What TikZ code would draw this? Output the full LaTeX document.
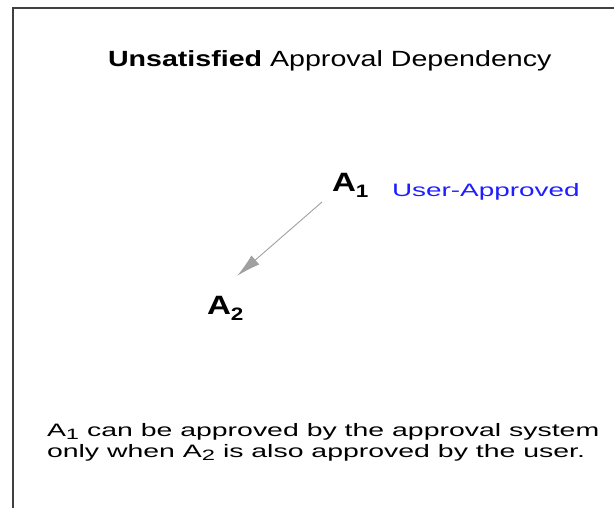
\documentclass[tikz,border=0pt]{standalone}
\usepackage{fontspec}
\setmainfont{Liberation Sans}
\usetikzlibrary{arrows.meta}
\definecolor{frame}{RGB}{64,64,64}
\definecolor{userblue}{RGB}{30,30,255}
\definecolor{arrgray}{RGB}{160,160,160}
\tikzset{
  txt/.style={anchor=base west, inner sep=0pt, outer sep=0pt},
  dep/.style={draw=arrgray, line width=0.9pt, -{Latex[length=24pt,width=12pt,fill=arrgray]}},
}
\newcommand{\bigA}[1]{\scalebox{1.25}[1]{\bfseries\fontsize{26.5}{27}\selectfont A\raisebox{-6pt}{\fontsize{18}{18}\selectfont #1}}}
\newcommand{\smalltxt}[1]{\scalebox{1.58}[1]{\fontsize{18}{20}\selectfont #1}}
\newcommand{\subA}[1]{A\raisebox{-3pt}{\fontsize{15}{15}\selectfont #1}}
\begin{document}
\begin{tikzpicture}[x=1pt,y=-1pt]
\useasboundingbox (0,0) rectangle (614,508);
\draw[frame, line width=2pt] (13,508) -- (13,8) -- (614,8);
\node[txt] (title) at (108,67) {\scalebox{1.30}[1]{\fontsize{22}{22}\selectfont\textbf{Unsatisfied} Approval Dependency}};
\node[txt] (a1) at (332,192) {\bigA{1}};
\node[txt, text=userblue] (ua) at (392,197) {\scalebox{1.55}[1]{\fontsize{18}{20}\selectfont User-Approved}};
\node[txt] (a2) at (207,314) {\bigA{2}};
\draw[dep] ([xshift=-10pt,yshift=-4pt]a1.south west) -- ([xshift=12pt,yshift=20pt]a2.north);
\node[txt] (l1) at (47,436) {\smalltxt{\subA{1} can be approved by the approval system}};
\node[txt] (l2) at (47,457) {\smalltxt{only when \subA{2} is also approved by the user.}};
\end{tikzpicture}
\end{document}
